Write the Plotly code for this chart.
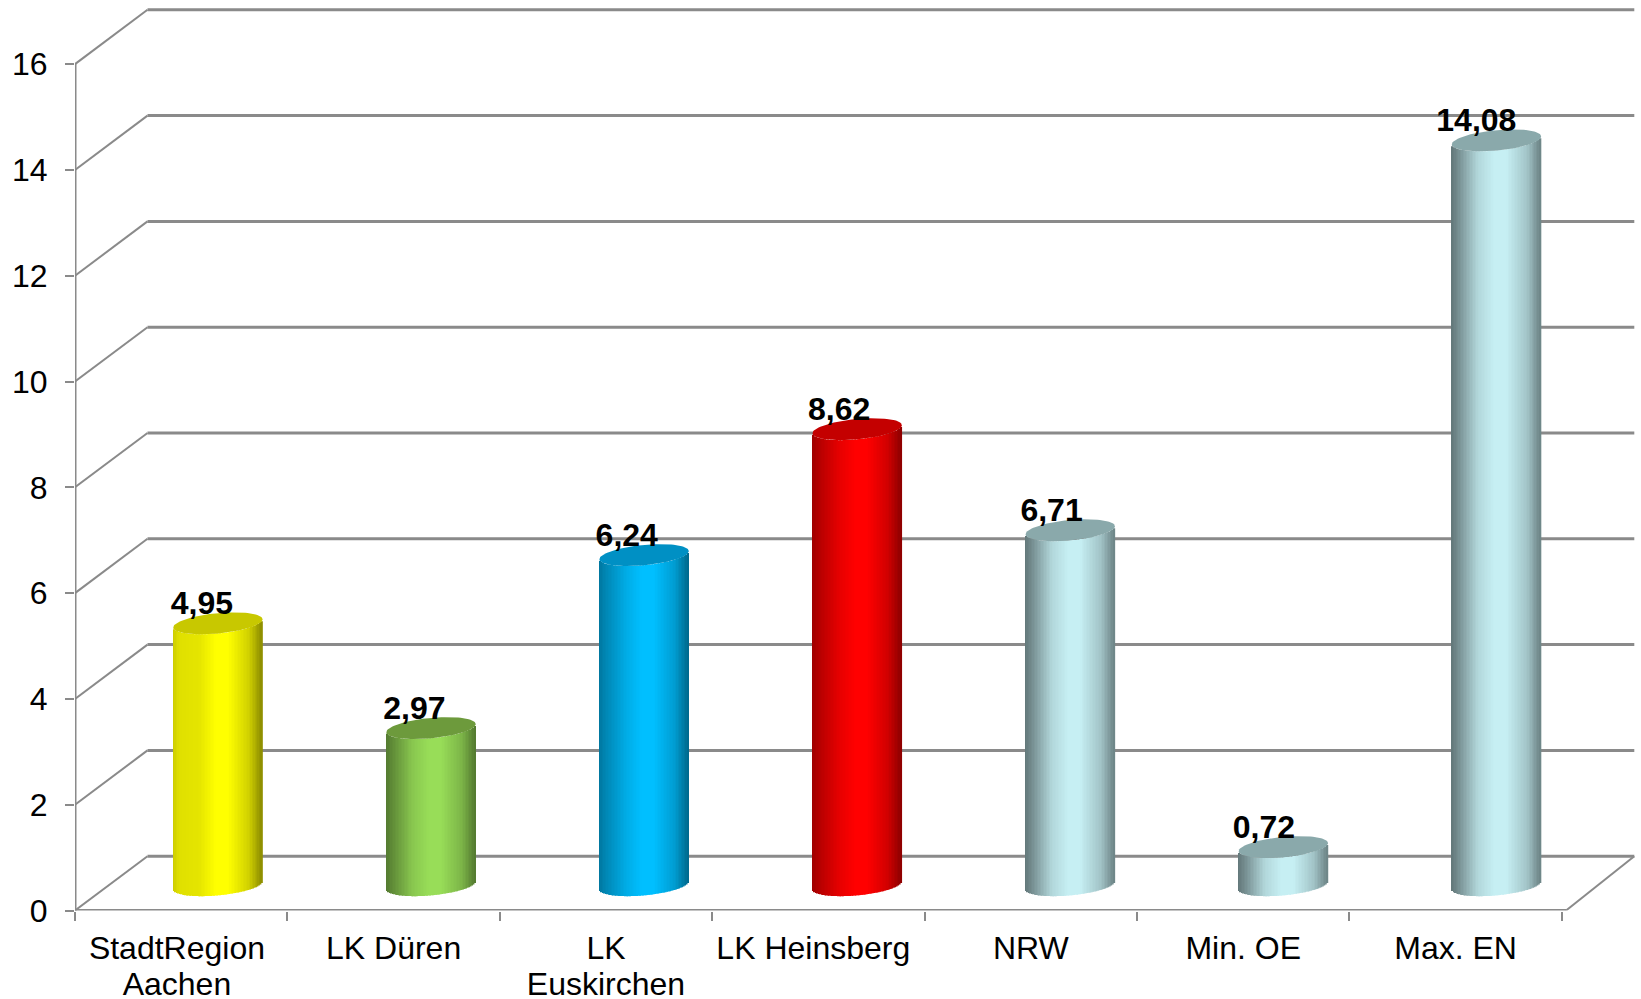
import numpy as np
import plotly.graph_objects as go

categories = ["StadtRegion", "LK Düren", "LK", "LK Heinsberg", "NRW", "Min. OE", "Max. EN"]
second_lines = {0: "Aachen", 2: "Euskirchen"}
values = [4.95, 2.97, 6.24, 8.62, 6.71, 0.72, 14.08]
labels = ["4,95", "2,97", "6,24", "8,62", "6,71", "0,72", "14,08"]
body_colors = ["#ffff00", "#98dd58", "#00bfff", "#ff0000", "#c6eff3", "#c6eff3", "#c6eff3"]
top_colors = ["#c8c800", "#6d9a3c", "#0090c4", "#c40000", "#8aa9ab", "#8aa9ab", "#8aa9ab"]
left_edge = [0.80, 0.55, 0.62, 0.62, 0.50, 0.50, 0.50]
y_ticks = list(range(0, 17, 2))

# geometry (axis units)
PX_X = 212.4
PX_Y = 52.9
W, H = 1641, 999
LEFT, BOTTOM = 75, 88.5
DEPTH_X = 72.5 / PX_X
DEPTH_Y = 54.3 / PX_Y
BAR_A = 44.7 / PX_X
TILT = 4.0 / PX_Y
B = 10.2 / PX_Y
BASE = 25.3 / PX_Y
N = 60
GRID = "#8a8a8a"
FONT = "Liberation Sans, Arial, sans-serif"

xmin = -0.5
xmax = xmin + (W - LEFT) / PX_X
ymax = (H - BOTTOM) / PX_Y
xright = 6.5


def shade(hex_color, p, edge):
    c = np.array([int(hex_color[i:i + 2], 16) for i in (1, 3, 5)], float)
    m = np.interp(p, [0, 0.07, 0.3, 0.48, 0.62, 0.85, 1],
                  [edge, edge + 0.08, 0.90, 1, 1, 0.82, 0.55])
    r = np.clip(c * m, 0, 255).astype(int)
    return "rgb(%d,%d,%d)" % tuple(r)


fig = go.Figure()

for i, (v, col, tc, edge) in enumerate(zip(values, body_colors, top_colors, left_edge)):
    cx = i + 0.173 + 0.0032 * i
    u = np.linspace(-1, 1, N, endpoint=False) + 1 / N
    xs = cx + BAR_A * u
    base = BASE + TILT * u - B * np.sqrt(1 - u ** 2)
    fig.add_trace(go.Bar(
        x=xs, y=[v] * N, base=base, width=2 * BAR_A / N * 1.25,
        marker=dict(color=[shade(col, (a + 1) / 2, edge) for a in u], line=dict(width=0)),
        hoverinfo="skip", showlegend=False))
    t = np.linspace(0, 2 * np.pi, 90)
    fig.add_trace(go.Scatter(
        x=cx + BAR_A * np.cos(t),
        y=v + BASE + TILT * np.cos(t) + B * np.sin(t),
        mode="lines", fill="toself", fillcolor=tc, line=dict(width=0),
        hoverinfo="skip", showlegend=False))

fig.add_trace(go.Scatter(
    x=[i + 0.173 - 16 / PX_X for i in range(len(values))],
    y=[v + 0.805 for v in values],
    text=labels, mode="text", textposition="middle center",
    textfont=dict(family=FONT, size=32, color="#000000", weight="bold"),
    hoverinfo="skip", showlegend=False))

# empty trace that keeps the second label row alive
fig.add_trace(go.Scatter(x=[], y=[], xaxis="x2", showlegend=False, hoverinfo="skip"))

shapes = []
for t in y_ticks:
    shapes.append(dict(type="path", xref="x", yref="y", layer="below",
                       path=f"M {xmin} {t} L {xmin + DEPTH_X} {t + DEPTH_Y}",
                       line=dict(color=GRID, width=2)))
    shapes.append(dict(type="path", xref="x", yref="y", layer="below",
                       path=f"M {xmin + DEPTH_X} {t + DEPTH_Y} L {xright + DEPTH_X} {t + DEPTH_Y}",
                       line=dict(color=GRID, width=3)))
shapes.append(dict(type="path", xref="x", yref="y", layer="below",
                   path=f"M {xmin} 0 L {xmin} 16", line=dict(color=GRID, width=3)))
shapes.append(dict(type="path", xref="x", yref="y", layer="below",
                   path=f"M {xmin} 0 L {xright + 0.02} 0", line=dict(color=GRID, width=3)))
shapes.append(dict(type="path", xref="x", yref="y", layer="below",
                   path=f"M {xright + 0.02} 0 L {xright + DEPTH_X} {DEPTH_Y}",
                   line=dict(color=GRID, width=2)))

tick_pos = [-0.02, 1, 2, 2.976, 4, 5, 6]
fig.update_layout(
    width=W, height=H, margin=dict(l=0, r=0, t=0, b=0, pad=0),
    paper_bgcolor="white", plot_bgcolor="white", barmode="overlay",
    shapes=shapes, font=dict(family=FONT, size=32, color="#000000"),
    xaxis=dict(domain=[LEFT / W, 1], range=[xmin, xmax], showgrid=False, zeroline=False, showline=False,
               automargin=False,
               tickmode="array", tickvals=tick_pos, ticktext=categories, ticks="",
               tickangle=0, ticklabelstandoff=15,
               tickfont=dict(family=FONT, size=32),
               minor=dict(tickmode="array", tickvals=[k - 0.5 for k in range(8)],
                          ticks="outside", ticklen=9, tickwidth=1.5, tickcolor=GRID, showgrid=False)),
    xaxis2=dict(domain=[LEFT / W, 1], range=[xmin, xmax], overlaying="x", anchor="y", side="bottom",
                automargin=False,
                showgrid=False, zeroline=False, showline=False, tickmode="array",
                tickvals=[tick_pos[k] for k in second_lines],
                ticktext=list(second_lines.values()), ticks="", tickangle=0,
                ticklabelstandoff=51, tickfont=dict(family=FONT, size=32)),
    yaxis=dict(domain=[BOTTOM / H, 1], range=[0, ymax], showgrid=False, zeroline=False, showline=False,
               automargin=False,
               tickmode="array", tickvals=y_ticks, ticktext=[str(t) for t in y_ticks],
               ticks="outside", ticklen=9, tickwidth=1.5, tickcolor=GRID,
               ticklabelstandoff=11, tickfont=dict(family=FONT, size=32)),
)

fig.write_html("out.html", config=dict(displayModeBar=False),
               post_script="document.body.style.margin='0';")
